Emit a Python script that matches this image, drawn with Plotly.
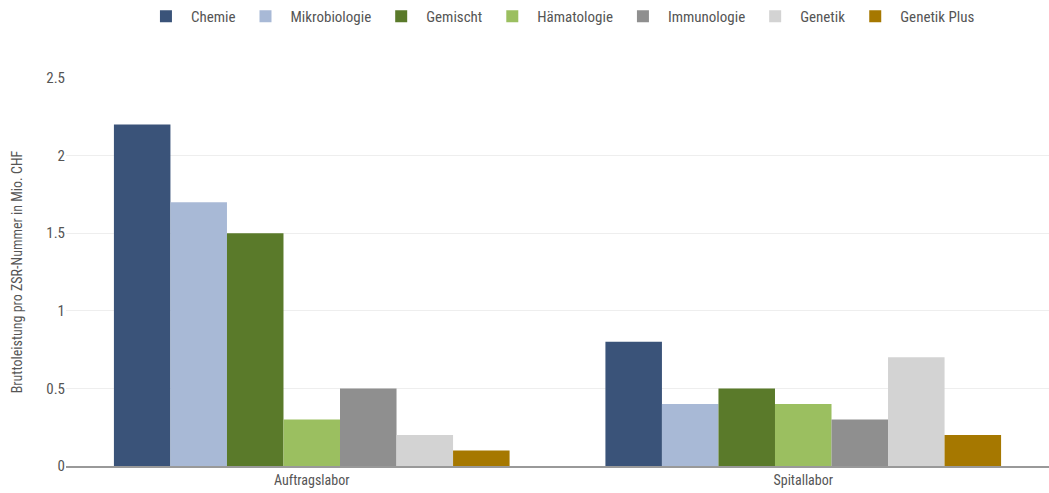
import plotly.graph_objects as go

categories = ["Auftragslabor", "Spitallabor"]
series_names = ["Chemie", "Mikrobiologie", "Gemischt", "Hämatologie",
                "Immunologie", "Genetik", "Genetik Plus"]
chemie = [2.2, 0.8]
mikrobiologie = [1.7, 0.4]
gemischt = [1.5, 0.5]
haematologie = [0.3, 0.4]
immunologie = [0.5, 0.3]
genetik = [0.2, 0.7]
genetik_plus = [0.1, 0.2]
y_ticks = [0, 0.5, 1, 1.5, 2, 2.5]
y_tick_labels = ["0", "0.5", "1", "1.5", "2", "2.5"]

series_values = [chemie, mikrobiologie, gemischt, haematologie,
                 immunologie, genetik, genetik_plus]
colors = ["#3a5379", "#a8b9d6", "#5a7a2a", "#9bbf60",
          "#8f8f8f", "#d3d3d3", "#a67800"]

FONT = "Liberation Sans Narrow, Roboto Condensed, Arial Narrow, sans-serif"

fig = go.Figure()
for name, vals, col in zip(series_names, series_values, colors):
    fig.add_trace(go.Bar(name=name, x=categories, y=vals,
                         marker=dict(color=col, line=dict(width=0))))

fig.update_layout(
    width=1049, height=493,
    margin=dict(l=66, r=0, t=78, b=27),
    barmode="group", bargap=0.195, bargroupgap=0,
    paper_bgcolor="white", plot_bgcolor="white",
    font=dict(family=FONT, size=14, color="#555555"),
    legend=dict(orientation="h", x=0.503, xanchor="center", y=1.0,
                yanchor="top", yref="container",
                font=dict(family=FONT, size=15, color="#555555"),
                itemwidth=40, traceorder="normal"),
    xaxis=dict(showgrid=False, showline=True, linecolor="#999999",
               linewidth=2, ticks="", tickfont=dict(size=14, color="#555555")),
    yaxis=dict(range=[0, 2.5], tickvals=y_ticks, ticktext=y_tick_labels,
               showgrid=True, gridcolor="#eeeeee", gridwidth=1,
               zeroline=False, ticks="", ticklen=0,
               tickfont=dict(size=15, color="#555555"),
               title=dict(text="Bruttoleistung pro ZSR-Nummer in Mio. CHF",
                          font=dict(size=14, color="#555555"), standoff=20)),
)

fig.write_html("out.html")
